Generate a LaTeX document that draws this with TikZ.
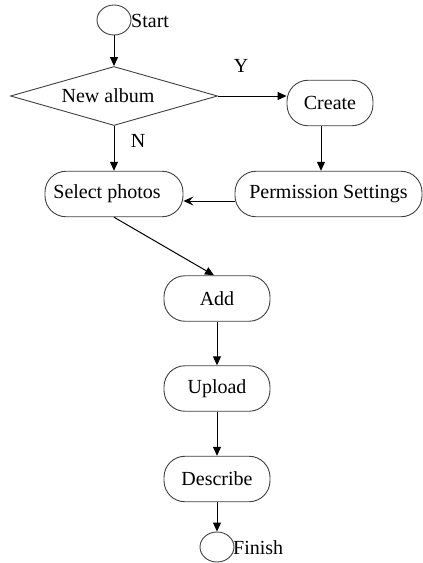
\documentclass[tikz,border=0pt]{standalone}
\usepackage{fontspec}
\setmainfont{Liberation Serif}
\usetikzlibrary{shapes.geometric,arrows.meta}
\tikzset{
  every node/.style={font=\fontsize{20}{22}\selectfont},
  procbox/.style={draw=black!75, line width=0.9pt, rounded corners=21pt,
    inner sep=0pt, minimum height=45.5pt},
  termnode/.style={draw=black!75, line width=0.9pt, ellipse, inner sep=0pt,
    minimum width=34pt, minimum height=30pt},
  decision/.style={draw=black!75, line width=0.9pt, diamond, shape aspect=3.5,
    inner sep=0pt, minimum width=207pt, minimum height=59pt},
  flow/.style={line width=1pt, -{Triangle[length=9pt,width=8pt]}},
  backflow/.style={line width=1pt, -{Stealth[length=10pt,width=9pt,inset=4pt]}},
  tag/.style={inner sep=0pt}
}
\begin{document}
\begin{tikzpicture}[x=1pt,y=-1pt]
\useasboundingbox (0,0) rectangle (423,563);

% terminals
\node[termnode] (start) at (114,20) {};
\node[tag, anchor=west] (starttxt) at (131,21) {Start};
\node[termnode] (finish) at (217,547) {};
\node[tag, anchor=west] (finishtxt) at (233,548) {Finish};

% decision
\node[decision] (album) at (114,96) {New album\kern12pt};

% process steps
\node[procbox, minimum width=86pt]  (create) at (330,103) {Create};
\node[procbox, minimum width=187pt] (perm)   at (328.5,194) {Permission Settings};
\node[procbox, minimum width=138pt] (select) at (114,194) {Select photos\kern14pt};
\node[procbox, minimum width=106pt] (add)    at (217,298.5) {Add};
\node[procbox, minimum width=106pt] (upload) at (217,388.5) {Upload};
\node[procbox, minimum width=106pt] (desc)   at (217,479) {Describe};

% branch labels
\node[tag] (ylab) at (241,66) {Y};
\node[tag] (nlab) at (138,141) {N};

% connectors
\draw[flow] (start) -- (album.north);
\draw[flow] (album.east) -- (album.east -| create.west);
\draw[flow] ([xshift=-9pt]create.south) -- ([xshift=-9pt]create.south |- perm.north);
\draw[backflow] ([yshift=-7pt]perm.west) -- ([yshift=-7pt]perm.west -| select.east);
\draw[flow] (album.south) -- (select.north);
\draw[flow] (select.south) -- ([xshift=-3pt]add.north);
\draw[flow] (add.south) -- (upload.north);
\draw[flow] (upload.south) -- (desc.north);
\draw[flow] (desc.south) -- (finish.north);
\end{tikzpicture}
\end{document}
